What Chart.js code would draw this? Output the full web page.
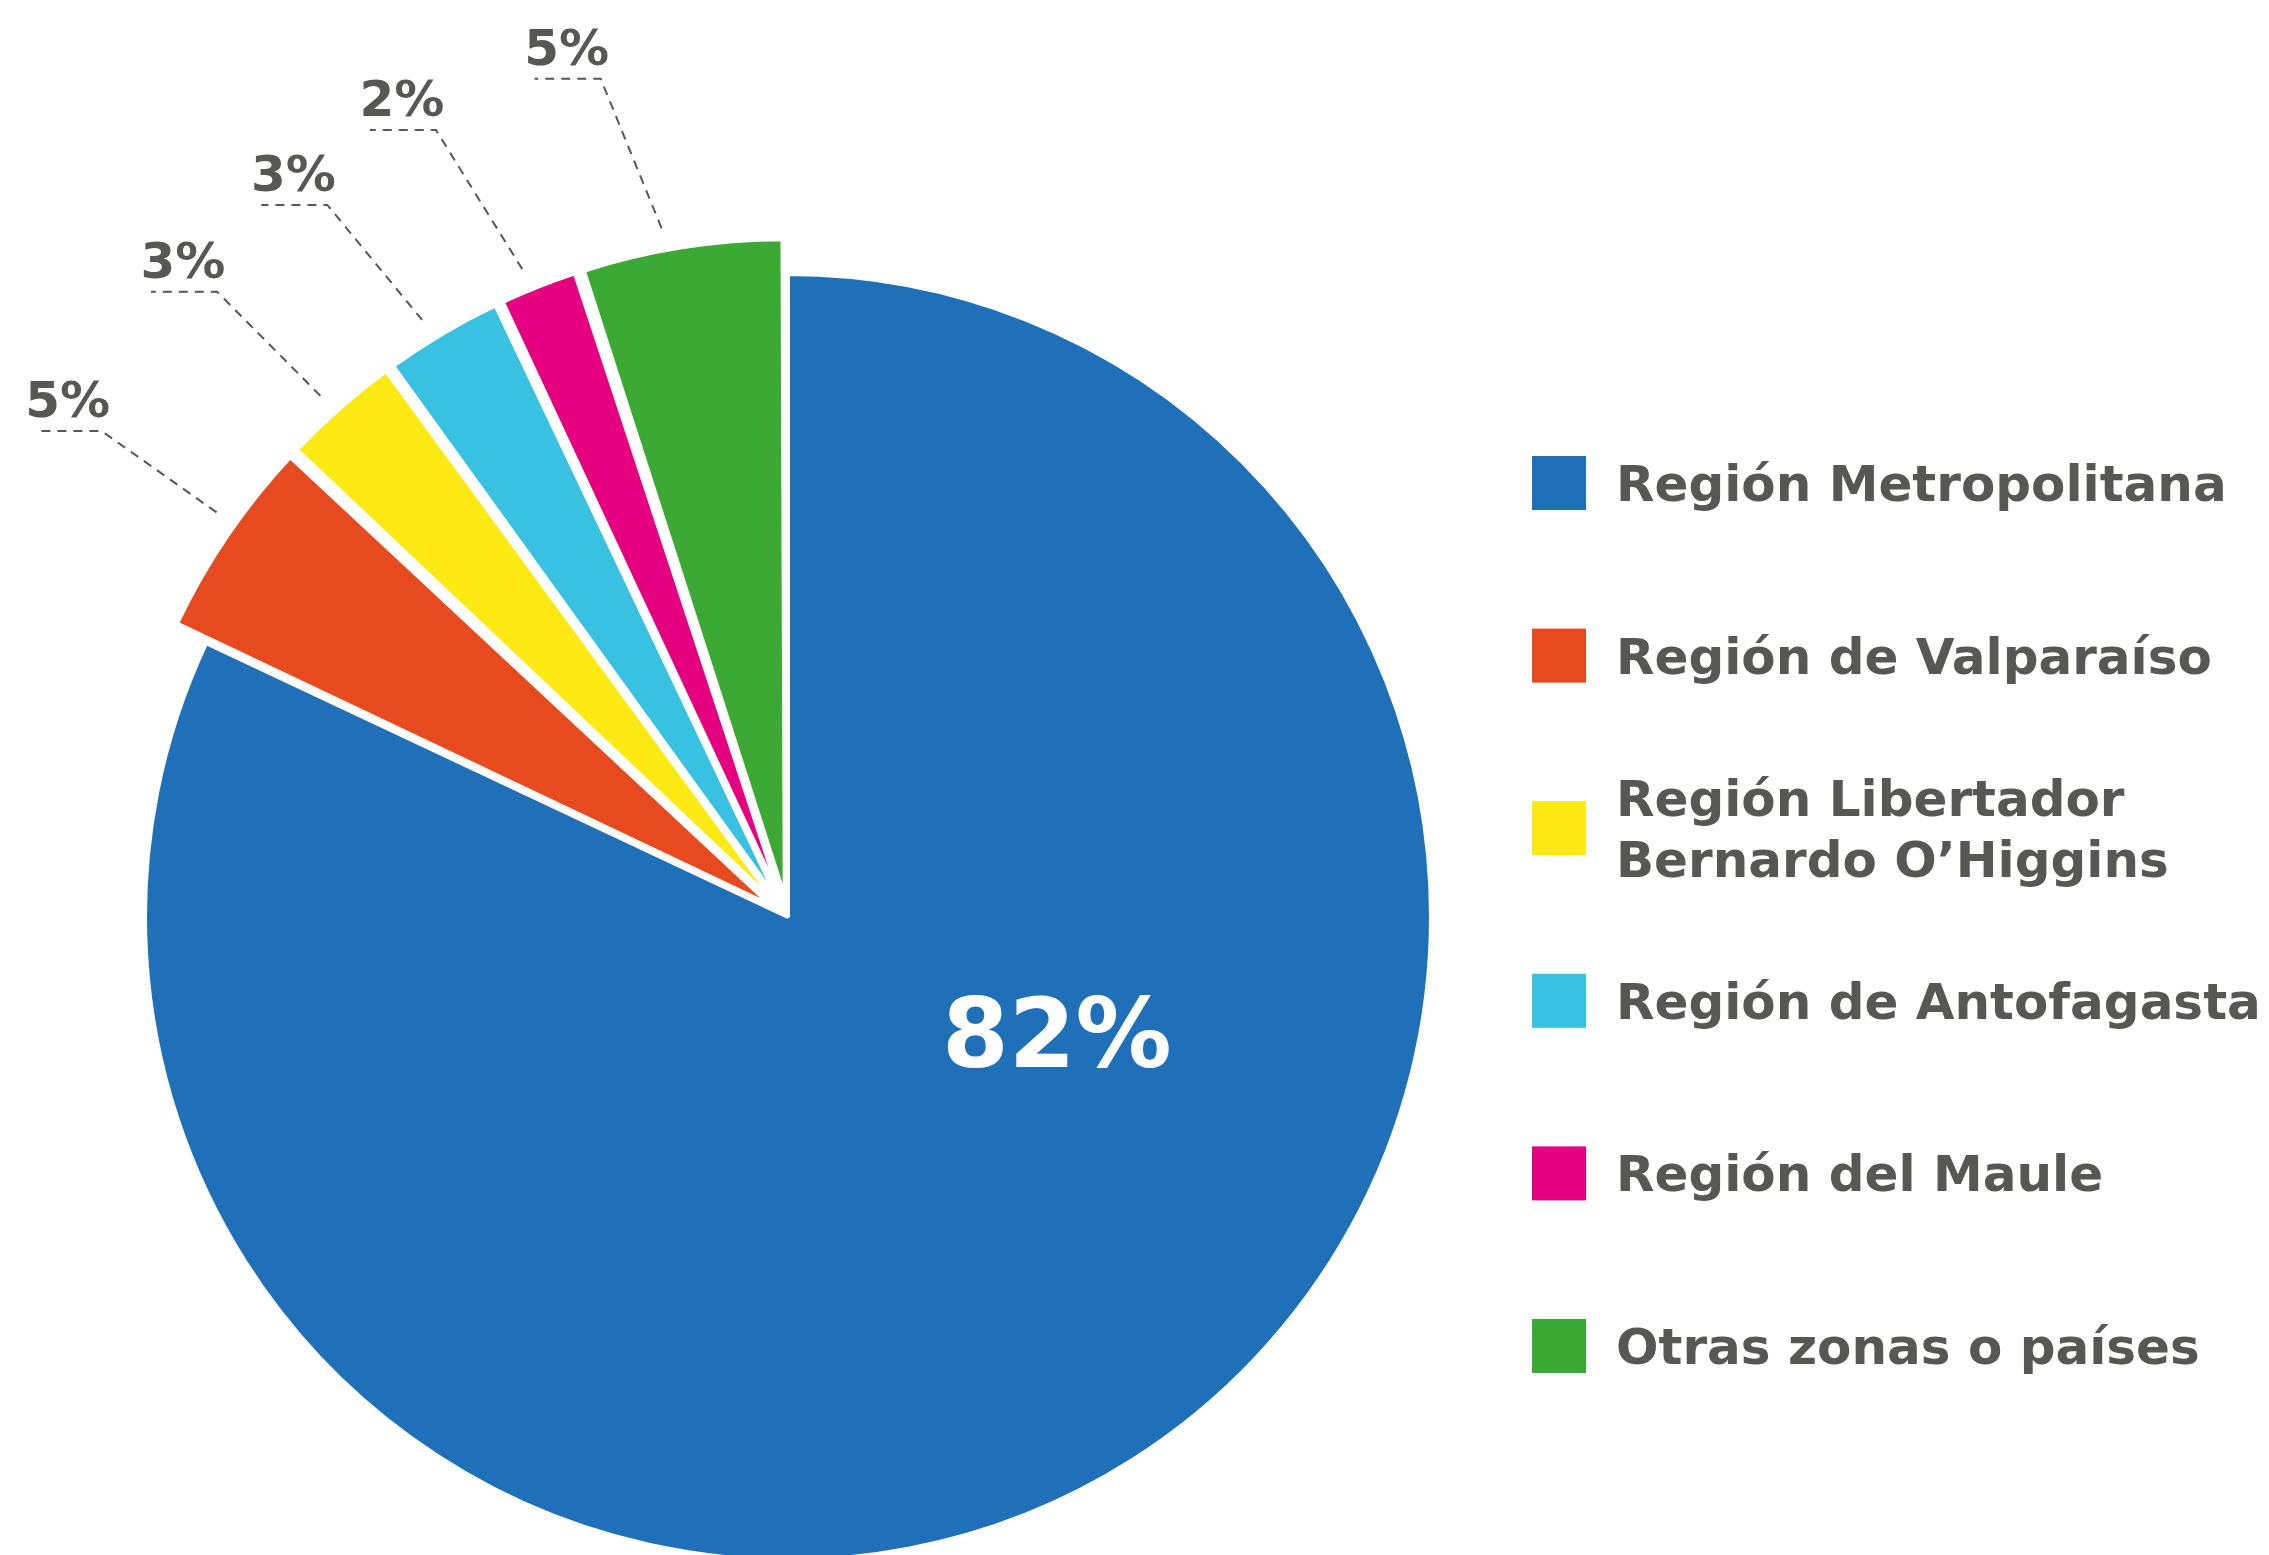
<!DOCTYPE html>
<html>
<head>
<meta charset="utf-8">
<script src="https://cdn.jsdelivr.net/npm/chart.js@4.4.0/dist/chart.umd.min.js"></script>
<style>
  html, body { margin: 0; padding: 0; background: #fff; }
  #wrap { width: 2269px; height: 1555px; }
</style>
</head>
<body>
<div id="wrap"><canvas id="myChart" width="2269" height="1555"></canvas></div>
<script>
const regions = [
  "Región Metropolitana",
  "Región de Valparaíso",
  ["Región Libertador", "Bernardo O’Higgins"],
  "Región de Antofagasta",
  "Región del Maule",
  "Otras zonas o países"
];
const shares = [82, 5, 3, 3, 2, 5];
const shareLabels = ["82%", "5%", "3%", "3%", "2%", "5%"];
const sliceColors = ["#1f70b8", "#e64a1e", "#fde913", "#38c1e1", "#e4007e", "#3da935"];

const textGray = "#575756";
const fontFamily = "'DejaVu Sans', sans-serif";
const deg = Math.PI / 180;

// small turn (degrees) of each leader line away from the slice middle, and how far out the knee sits
const leaderStartTilt = [0, 1.1, -0.5, -0.9, -0.7, -1.4];
const leaderKneeTilt = [0, 1.1, -1.0, -2.3, -2.5, -3.6];
const leaderKneeReach = [0, 1.308, 1.317, 1.319, 1.341, 1.336];

// chart.js v4 moves an arc by offset/4 * (2 - sin(circumference)),
// so pick the offset that gives every small slice the same ~35px shift
const explode = (c) => {
  if (c.dataIndex === 0) return 0;
  const total = shares.reduce((a, b) => a + b, 0);
  const circ = c.raw / total * Math.PI * 2;
  return 140 / (2 - Math.sin(circ));
};

const annotate = {
  id: "annotate",
  afterDatasetsDraw(chart) {
    const ctx = chart.ctx;
    const meta = chart.getDatasetMeta(0);
    ctx.save();
    meta.data.forEach((arc, i) => {
      const {x, y, startAngle, endAngle, outerRadius} =
        arc.getProps(["x", "y", "startAngle", "endAngle", "outerRadius"], true);
      const mid = (startAngle + endAngle) / 2;
      if (i === 0) {
        ctx.fillStyle = "#fff";
        ctx.font = "bold 96px " + fontFamily;
        ctx.textAlign = "center";
        ctx.textBaseline = "alphabetic";
        ctx.fillText(shareLabels[0], x + 0.418 * outerRadius, y + 0.233 * outerRadius);
        return;
      }
      const r0 = outerRadius * 1.089;
      const r1 = outerRadius * leaderKneeReach[i];
      const a0 = mid + leaderStartTilt[i] * deg;
      const a1 = mid + leaderKneeTilt[i] * deg;
      const sx = x + Math.cos(a0) * r0, sy = y + Math.sin(a0) * r0;
      const kx = x + Math.cos(a1) * r1, ky = y + Math.sin(a1) * r1;
      ctx.strokeStyle = textGray;
      ctx.lineWidth = 2;
      ctx.setLineDash([9, 7]);
      ctx.beginPath();
      ctx.moveTo(sx, sy);
      ctx.lineTo(kx, ky);
      ctx.lineTo(kx - 66, ky);
      ctx.stroke();
      ctx.setLineDash([]);
      ctx.fillStyle = textGray;
      ctx.font = "bold 50px " + fontFamily;
      ctx.textAlign = "center";
      ctx.textBaseline = "alphabetic";
      ctx.fillText(shareLabels[i], kx - 34, ky - 14);
    });

    // legend on the right
    const boxX = 1532, boxSize = 54, textX = 1616;
    const firstRow = 483, rowStep = 172.6, lineH = 61;
    ctx.font = "bold 50px " + fontFamily;
    ctx.textAlign = "left";
    ctx.textBaseline = "alphabetic";
    regions.forEach((name, i) => {
      const cy = firstRow + i * rowStep;
      ctx.fillStyle = sliceColors[i];
      ctx.fillRect(boxX, cy - boxSize / 2, boxSize, boxSize);
      const lines = Array.isArray(name) ? name : [name];
      ctx.fillStyle = textGray;
      lines.forEach((line, j) => {
        const base = cy + 18 + (j - (lines.length - 1) / 2) * lineH;
        ctx.fillText(line, textX, base);
      });
    });
    ctx.restore();
  }
};

const ctx = document.getElementById("myChart");
const myChart = new Chart(ctx, {
  type: "pie",
  data: {
    labels: regions,
    datasets: [{
      data: shares,
      backgroundColor: sliceColors,
      borderColor: "#ffffff",
      borderWidth: 4,
      offset: explode
    }]
  },
  options: {
    responsive: false,
    devicePixelRatio: 1,
    animation: false,
    events: [],
    radius: 643,
    layout: { padding: { left: 0, right: 693, top: 279, bottom: 0 } },
    plugins: {
      legend: { display: false },
      tooltip: { enabled: false }
    }
  },
  plugins: [annotate]
});
</script>
</body>
</html>
